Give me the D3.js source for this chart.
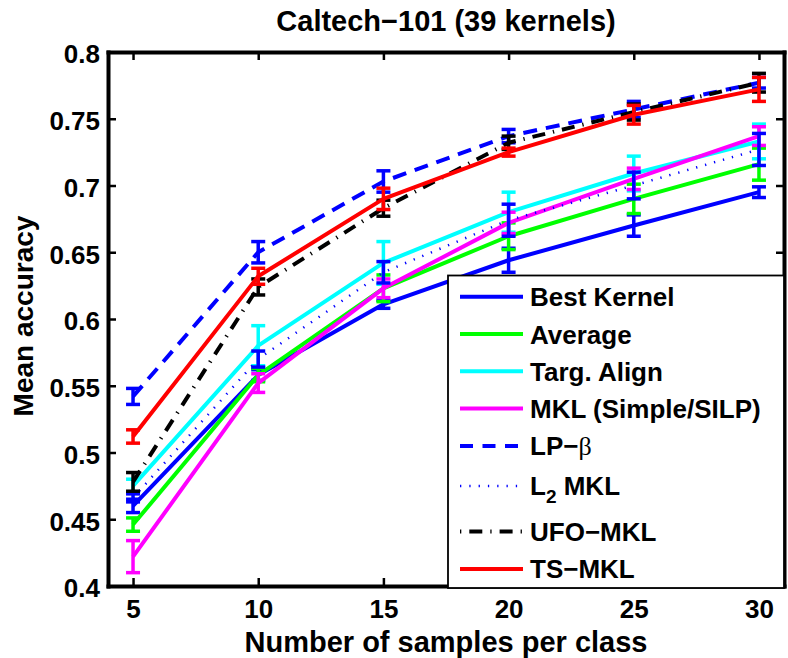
<!DOCTYPE html>
<html>
<head>
<meta charset="utf-8">
<script src="https://cdn.jsdelivr.net/npm/d3@7"></script>
<style>
  html, body { margin: 0; padding: 0; background: #fff; }
  svg { display: block; }
  text { font-family: "Liberation Sans", Arial, Helvetica, sans-serif; font-weight: bold; fill: #000; }
</style>
</head>
<body>
<script>
// Number of training samples per class
const samples = [5, 10, 15, 20, 25, 30];

// Mean accuracy per method, with error-bar half widths
const bestKernel     = [0.460, 0.558, 0.611, 0.644, 0.670, 0.695];
const bestKernelErr  = [0.005, 0.004, 0.003, 0.009, 0.008, 0.004];
const average        = [0.446, 0.558, 0.623, 0.662, 0.690, 0.716];
const averageErr     = [0.005, 0.005, 0.010, 0.010, 0.011, 0.012];
const targAlign      = [0.475, 0.580, 0.642, 0.680, 0.709, 0.733];
const targAlignErr   = [0.005, 0.015, 0.016, 0.015, 0.013, 0.013];
const mklSimple      = [0.422, 0.552, 0.623, 0.672, 0.705, 0.737];
const mklSimpleErr   = [0.012, 0.007, 0.007, 0.008, 0.008, 0.007];
const lpBeta         = [0.542, 0.650, 0.703, 0.737, 0.757, 0.777];
const lpBetaErr      = [0.006, 0.008, 0.008, 0.005, 0.006, 0.004];
const l2Mkl          = [0.466, 0.570, 0.635, 0.674, 0.700, 0.727];
const l2MklErr       = [0.003, 0.006, 0.008, 0.012, 0.010, 0.012];
const ufoMkl         = [0.478, 0.624, 0.683, 0.732, 0.755, 0.777];
const ufoMklErr      = [0.007, 0.006, 0.006, 0.005, 0.006, 0.007];
const tsMkl          = [0.512, 0.632, 0.690, 0.725, 0.753, 0.772];
const tsMklErr       = [0.005, 0.006, 0.008, 0.003, 0.007, 0.009];

// Axis ticks
const xTicks = [5, 10, 15, 20, 25, 30];
const xTickLabels = ["5", "10", "15", "20", "25", "30"];
const yTicks = [0.4, 0.45, 0.5, 0.55, 0.6, 0.65, 0.7, 0.75, 0.8];
const yTickLabels = ["0.4", "0.45", "0.5", "0.55", "0.6", "0.65", "0.7", "0.75", "0.8"];

// Series in drawing order (later ones drawn on top)
const series = [
  { name: "Best Kernel", values: bestKernel, err: bestKernelErr, color: "#0000ff", dash: null,           width: 4 },
  { name: "Average",     values: average,    err: averageErr,    color: "#00ff00", dash: null,           width: 4 },
  { name: "Targ. Align", values: targAlign,  err: targAlignErr,  color: "#00ffff", dash: null,           width: 4 },
  { name: "MKL (Simple/SILP)", values: mklSimple, err: mklSimpleErr, color: "#ff00ff", dash: null,      width: 4 },
  { name: "LP−β",        values: lpBeta,     err: lpBetaErr,     color: "#0000ff", dash: "14,9",         width: 4 },
  { name: "L2 MKL",      values: l2Mkl,      err: l2MklErr,      color: "#0000ff", dash: "1.3,8",        width: 2.5 },
  { name: "UFO−MKL",     values: ufoMkl,     err: ufoMklErr,     color: "#000000", dash: "13,8,1.3,8",   width: 4 },
  { name: "TS−MKL",      values: tsMkl,      err: tsMklErr,      color: "#ff0000", dash: null,           width: 4 }
];

const W = 788, H = 658;
const plot = { left: 108, right: 784, top: 52, bottom: 586 };

const svg = d3.select("body").append("svg").attr("width", W).attr("height", H);

const x = d3.scaleLinear().domain([4, 31]).range([plot.left, plot.right]);
const y = d3.scaleLinear().domain([0.4, 0.8]).range([plot.bottom, plot.top]);

// Series lines with error bars
const line = d3.line().x((d, i) => x(samples[i])).y(d => y(d));
const capHalf = 7;

series.forEach(s => {
  const g = svg.append("g");
  g.append("path")
    .datum(s.values)
    .attr("d", line)
    .attr("fill", "none")
    .attr("stroke", s.color)
    .attr("stroke-width", s.width)
    .attr("stroke-linejoin", "round")
    .attr("stroke-dasharray", s.dash);

  const bars = g.selectAll(".bar").data(s.values.map((v, i) => ({ x: samples[i], v, e: s.err[i] })))
    .enter().append("g");
  bars.append("line")
    .attr("x1", d => x(d.x)).attr("x2", d => x(d.x))
    .attr("y1", d => y(d.v - d.e)).attr("y2", d => y(d.v + d.e))
    .attr("stroke", s.color).attr("stroke-width", 3.5);
  [-1, 1].forEach(k => {
    bars.append("line")
      .attr("x1", d => x(d.x) - capHalf).attr("x2", d => x(d.x) + capHalf)
      .attr("y1", d => y(d.v + k * d.e)).attr("y2", d => y(d.v + k * d.e))
      .attr("stroke", s.color).attr("stroke-width", 3.5);
  });
});

// Axes box with inward ticks on all four sides
function styleAxis(g, showLabels) {
  g.select(".domain").attr("stroke", "#000").attr("stroke-width", 4).attr("stroke-linecap", "square");
  g.selectAll(".tick line").attr("stroke", "#000").attr("stroke-width", 2.5);
  g.selectAll(".tick text").attr("font-size", 26).attr("font-weight", "bold")
    .attr("font-family", "'Liberation Sans', Arial, Helvetica, sans-serif").attr("fill", "#000");
  if (!showLabels) g.selectAll(".tick text").remove();
}

svg.append("g").attr("transform", `translate(0,${plot.bottom})`)
  .call(d3.axisBottom(x).tickValues(xTicks).tickFormat((d, i) => xTickLabels[i])
    .tickSizeInner(-8).tickSizeOuter(0).tickPadding(13.5))
  .call(g => styleAxis(g, true));

svg.append("g").attr("transform", `translate(0,${plot.top})`)
  .call(d3.axisTop(x).tickValues(xTicks).tickSizeInner(-8).tickSizeOuter(0))
  .call(g => styleAxis(g, false));

svg.append("g").attr("transform", `translate(${plot.left},0)`)
  .call(d3.axisLeft(y).tickValues(yTicks).tickFormat((d, i) => yTickLabels[i])
    .tickSizeInner(-8).tickSizeOuter(0).tickPadding(8))
  .call(g => styleAxis(g, true))
  .call(g => g.selectAll(".tick text").attr("dy", "0.42em"));

svg.append("g").attr("transform", `translate(${plot.right},0)`)
  .call(d3.axisRight(y).tickValues(yTicks).tickSizeInner(-8).tickSizeOuter(0))
  .call(g => styleAxis(g, false));

// Title and axis labels
svg.append("text")
  .attr("x", (plot.left + plot.right) / 2).attr("y", 31)
  .attr("text-anchor", "middle").attr("font-size", 29)
  .text("Caltech−101 (39 kernels)");

svg.append("text")
  .attr("x", (plot.left + plot.right) / 2).attr("y", 652)
  .attr("text-anchor", "middle").attr("font-size", 29)
  .text("Number of samples per class");

svg.append("text")
  .attr("transform", "translate(33,316) rotate(-90)")
  .attr("text-anchor", "middle").attr("font-size", 28)
  .text("Mean accuracy");

// Legend
const legend = { x0: 448, y0: 275.5, x1: 784, y1: 588 };
const lg = svg.append("g");
lg.append("rect")
  .attr("x", legend.x0).attr("y", legend.y0)
  .attr("width", legend.x1 - legend.x0).attr("height", legend.y1 - legend.y0)
  .attr("fill", "#fff").attr("stroke", "#000").attr("stroke-width", 1.8);

const rowH = 37.3;
let cursor = legend.y0 + 21.2;
series.forEach((s, i) => {
  const hasSub = s.name === "L2 MKL";
  const afterSub = i > 0 && series[i - 1].name === "L2 MKL";
  if (i > 0) cursor += rowH + (hasSub ? 2.7 : 0) + (afterSub ? 8.4 : 0);
  const cy = cursor;
  lg.append("line")
    .attr("x1", 460).attr("x2", 523).attr("y1", cy).attr("y2", cy)
    .attr("stroke", s.color).attr("stroke-width", s.width)
    .attr("stroke-dasharray", s.name === "LP−β" ? "13,9.5" : s.name === "L2 MKL" ? "1.3,8" : s.name === "UFO−MKL" ? "1.3,8,13,8" : null);

  const t = lg.append("text").attr("x", 530).attr("y", cy + 9.5).attr("font-size", 26);
  if (s.name === "LP−β") {
    t.append("tspan").text("LP−");
    t.append("tspan").attr("font-family", "'Liberation Serif', 'DejaVu Serif', serif")
      .attr("font-weight", "normal").text("β");
  } else if (hasSub) {
    t.append("tspan").text("L");
    t.append("tspan").attr("font-size", 19).attr("dy", 8).text("2");
    t.append("tspan").attr("dy", -8).text(" MKL");
  } else {
    t.text(s.name);
  }
});
</script>
</body>
</html>
